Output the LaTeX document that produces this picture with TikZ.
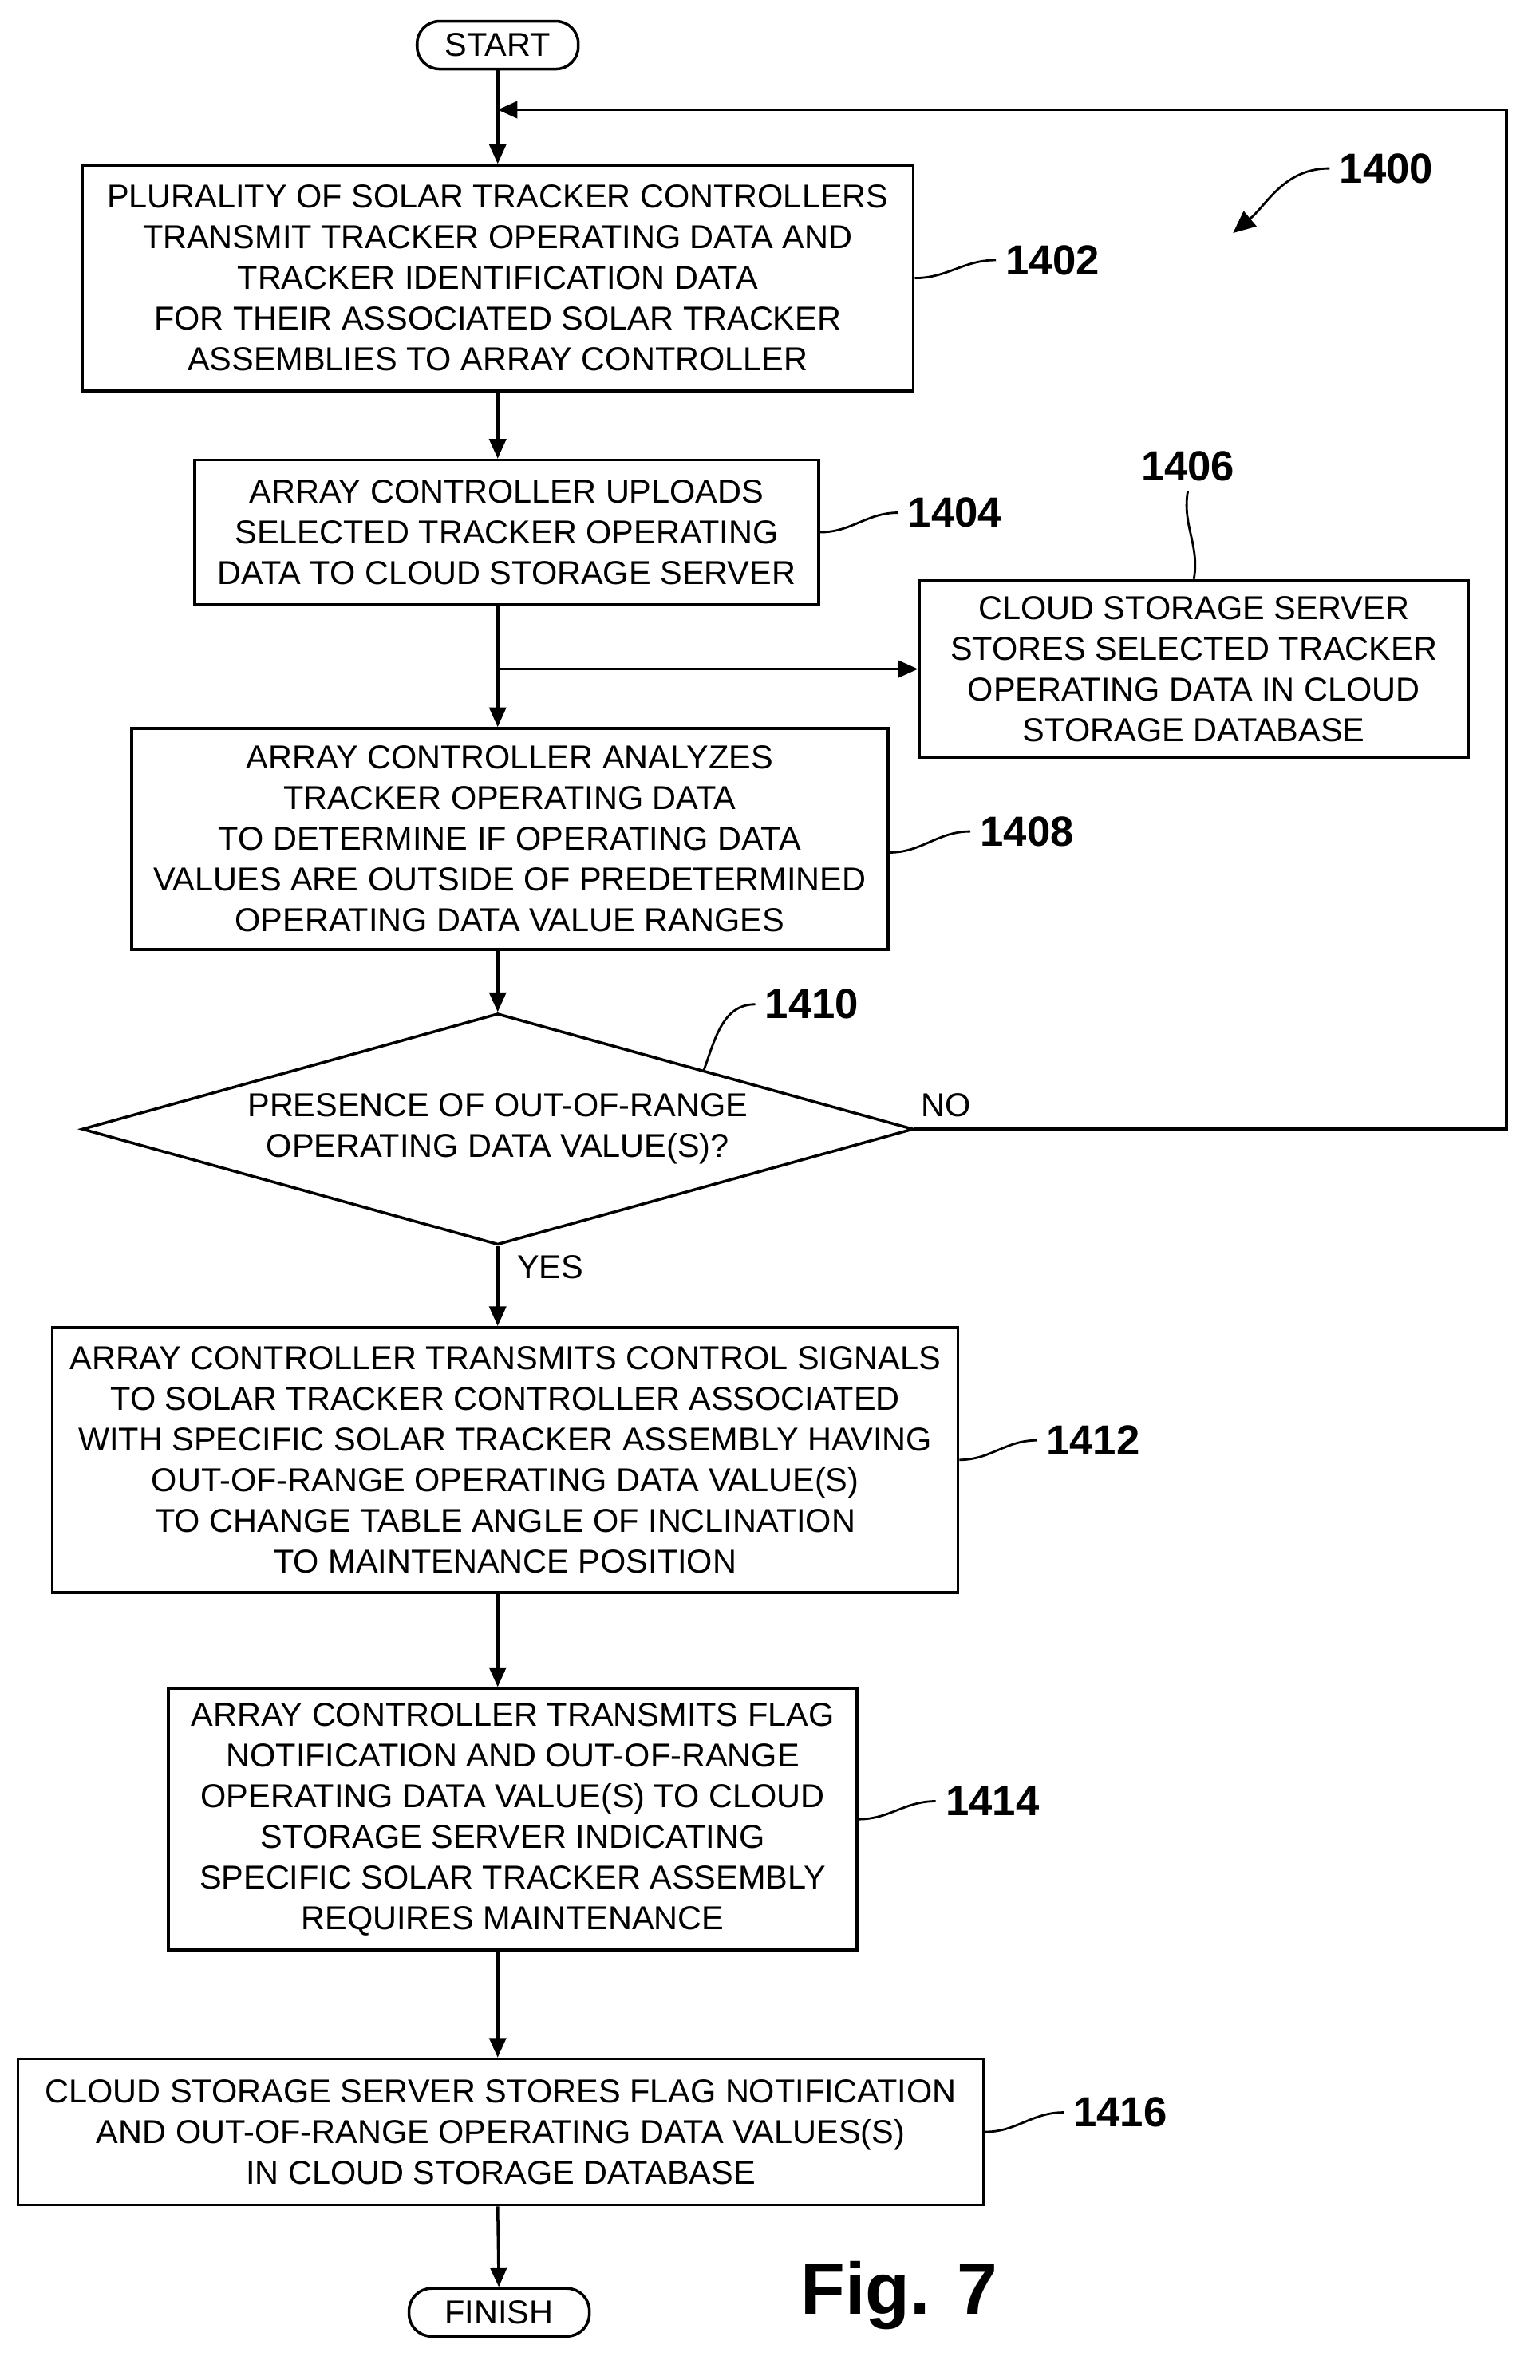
\documentclass[tikz,border=0pt]{standalone}
\usepackage{fontspec}
\setmainfont{Liberation Sans}
\usetikzlibrary{positioning,shapes.geometric,arrows.meta}

\tikzset{
  box/.style={draw, line width=1pt, align=center, inner sep=1pt, font=\fontsize{11.8}{14.5}\selectfont},
  term/.style={draw, line width=1pt, rounded corners=8pt, font=\fontsize{11.8}{13}\selectfont},
  lbl/.style={font=\bfseries\fontsize{15}{17}\selectfont},
  flow/.style={line width=1pt, -{Triangle[length=7pt,width=6pt]}},
  lead/.style={line width=0.8pt}
}

\begin{document}
\begin{tikzpicture}[x=0.01885cm, y=-0.01885cm]
		\useasboundingbox (0,0) rectangle (1024,1583);
		% flow boxes
		\node[term, minimum width=2.02cm, minimum height=0.6cm] (start) at (331,30) {START};
		\node[box, minimum width=10.42cm, minimum height=2.83cm] (b1402) at (331,185)
		{PLURALITY OF SOLAR TRACKER CONTROLLERS\\TRANSMIT TRACKER OPERATING DATA AND\\TRACKER IDENTIFICATION DATA\\FOR THEIR ASSOCIATED SOLAR TRACKER\\ASSEMBLIES TO ARRAY CONTROLLER};
		\node[box, minimum width=7.82cm, minimum height=1.81cm] (b1404) at (337,354)
		{ARRAY CONTROLLER UPLOADS\\SELECTED TRACKER OPERATING\\DATA TO CLOUD STORAGE SERVER};
		\node[box, minimum width=6.88cm, minimum height=2.22cm] (b1406) at (794,445)
		{CLOUD STORAGE SERVER\\STORES SELECTED TRACKER\\OPERATING DATA IN CLOUD\\STORAGE DATABASE};
		\node[box, minimum width=9.48cm, minimum height=2.77cm] (b1408) at (339,558)
		{ARRAY CONTROLLER ANALYZES\\TRACKER OPERATING DATA\\TO DETERMINE IF OPERATING DATA\\VALUES ARE OUTSIDE OF PREDETERMINED\\OPERATING DATA VALUE RANGES};
		\node[box, diamond, aspect=3.6, inner sep=0pt, minimum width=10.42cm, minimum height=2.9cm] (d1410) at (331,751)
		{PRESENCE OF OUT-OF-RANGE\\OPERATING DATA VALUE(S)?};
		\node[box, minimum width=11.35cm, minimum height=3.32cm] (b1412) at (336,971)
		{ARRAY CONTROLLER TRANSMITS CONTROL SIGNALS\\TO SOLAR TRACKER CONTROLLER ASSOCIATED\\WITH SPECIFIC SOLAR TRACKER ASSEMBLY HAVING\\OUT-OF-RANGE OPERATING DATA VALUE(S)\\TO CHANGE TABLE ANGLE OF INCLINATION\\TO MAINTENANCE POSITION};
		\node[box, minimum width=8.63cm, minimum height=3.28cm] (b1414) at (341,1210)
		{ARRAY CONTROLLER TRANSMITS FLAG\\NOTIFICATION AND OUT-OF-RANGE\\OPERATING DATA VALUE(S) TO CLOUD\\STORAGE SERVER INDICATING\\SPECIFIC SOLAR TRACKER ASSEMBLY\\REQUIRES MAINTENANCE};
		\node[box, minimum width=12.1cm, minimum height=1.83cm] (b1416) at (333,1418)
		{CLOUD STORAGE SERVER STORES FLAG NOTIFICATION\\AND OUT-OF-RANGE OPERATING DATA VALUES(S)\\IN CLOUD STORAGE DATABASE};
		\node[term, minimum width=2.26cm, minimum height=0.6cm] (finish) at (332,1538) {FINISH};
		% arrows
		\coordinate (loop) at (331,73);
		\coordinate (split) at (331,445);
		\draw[flow] (start) -- (b1402.north -| start);
		\draw[flow] (b1402.south -| start) -- (b1404.north -| start);
		\draw[line width=1pt] (b1404.south -| start) -- (split);
		\draw[flow] (split) -- (b1408.north -| start);
		\draw[flow] (split) -- (b1406.west);
		\draw[flow] (b1408.south -| start) -- (d1410.north);
		\draw[flow] (d1410.south) -- (b1412.north -| start);
		\draw[flow] (b1412.south -| start) -- (b1414.north -| start);
		\draw[flow] (b1414.south -| start) -- (b1416.north -| start);
		\draw[flow] (b1416.south -| start) -- (finish);
		\draw[flow] (d1410.east) -- (1002,751) -- (1002,73) -- (loop);
		\node[font=\fontsize{11.8}{13}\selectfont] (no) at (629,735) {NO};
		\node[font=\fontsize{11.8}{13}\selectfont] (yes) at (366,843) {YES};
		% reference labels
		\node[lbl] (l1400) at (922,112) {1400};
		\node[lbl] (l1402) at (700,173) {1402};
		\node[lbl] (l1404) at (635,341) {1404};
		\node[lbl] (l1406) at (790,310) {1406};
		\node[lbl] (l1408) at (683,553) {1408};
		\node[lbl] (l1410) at (540,668) {1410};
		\node[lbl] (l1412) at (727,958) {1412};
		\node[lbl] (l1414) at (660,1198) {1414};
		\node[lbl] (l1416) at (745,1405) {1416};
		\draw[lead] (b1402.east |- 0,185) to[out=0,in=180] (l1402.west);
		\draw[lead] (b1404.east) to[out=0,in=180] (l1404.west);
		\draw[lead] (l1406.south) to[out=-100,in=80] (b1406.north);
		\draw[lead] (b1408.east |- 0,567) to[out=0,in=180] (l1408.west);
		\draw[lead] (468,712) to[out=70,in=180] (l1410.west);
		\draw[lead] (b1412.east) to[out=0,in=180] (l1412.west);
		\draw[lead] (b1414.east) to[out=0,in=180] (l1414.west);
		\draw[lead] (b1416.east) to[out=0,in=180] (l1416.west);
		\draw[lead, -{Triangle[length=8pt,width=7pt]}] (l1400.west) to[out=180,in=40] (820,155);
		\node[font=\bfseries\fontsize{26}{28}\selectfont] (fig) at (598,1527) {Fig. 7};
	\end{tikzpicture}
\end{document}
